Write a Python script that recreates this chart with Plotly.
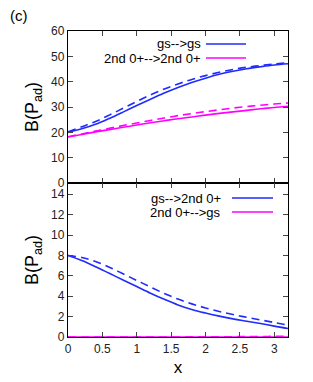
import plotly.graph_objects as go
from plotly.subplots import make_subplots

x = [0, 0.2, 0.4, 0.6, 0.8, 1.0, 1.2, 1.4, 1.6, 1.8, 2.0, 2.2, 2.4, 2.6, 2.8, 3.0, 3.2]

# upper panel
gs_gs_solid = [20.0, 21.4, 23.2, 25.5, 28.0, 30.6, 33.1, 35.5, 37.7, 39.7, 41.4, 42.9, 44.1, 45.1, 45.9, 46.6, 47.1]
gs_gs_dash = [20.2, 22.2, 24.3, 26.8, 29.5, 32.2, 34.8, 37.1, 39.1, 40.9, 42.4, 43.7, 44.8, 45.7, 46.4, 47.0, 47.5]
n2_n2_solid = [18.2, 19.2, 20.2, 21.1, 22.0, 22.9, 23.8, 24.6, 25.4, 26.1, 26.8, 27.5, 28.1, 28.7, 29.3, 29.8, 30.3]
n2_n2_dash = [18.3, 19.4, 20.5, 21.6, 22.7, 23.7, 24.7, 25.7, 26.6, 27.4, 28.2, 28.9, 29.6, 30.2, 30.7, 31.2, 31.6]

# lower panel
gs_n2_solid = [8.0, 7.5, 6.9, 6.25, 5.6, 4.95, 4.3, 3.7, 3.15, 2.7, 2.35, 2.05, 1.78, 1.55, 1.32, 1.07, 0.84]
gs_n2_dash = [8.0, 7.8, 7.4, 6.85, 6.2, 5.55, 4.9, 4.27, 3.72, 3.25, 2.85, 2.5, 2.2, 1.93, 1.68, 1.42, 1.17]
n2_gs_solid = [0.0] * 17
n2_gs_dash = [0.0, 0.0, 0.0, 0.0, 0.0, 0.0, 0.0, 0.0, 0.0, 0.01, 0.01, 0.02, 0.03, 0.04, 0.05, 0.06, 0.07]

upper_labels = ["gs-->gs", "2nd 0+-->2nd 0+"]
lower_labels = ["gs-->2nd 0+", "2nd 0+-->gs"]

BLUE = "#1f2bff"
MAG = "#ff00ff"
FONT = "Liberation Sans, Arial, sans-serif"

fig = make_subplots(rows=2, cols=1, shared_xaxes=False, vertical_spacing=0.0,
                    row_heights=[0.497, 0.503])

def add(y, color, dash, row):
    fig.add_trace(go.Scatter(x=x, y=y, mode="lines", line=dict(color=color, width=1.6, dash=dash, shape="spline"),
                             showlegend=False, hoverinfo="skip"), row=row, col=1)

add(gs_gs_dash, BLUE, "8px,5px", 1)
add(gs_gs_solid, BLUE, "solid", 1)
add(n2_n2_dash, MAG, "8px,5px", 1)
add(n2_n2_solid, MAG, "solid", 1)
add(gs_n2_dash, BLUE, "8px,5px", 2)
add(gs_n2_solid, BLUE, "solid", 2)
add(n2_gs_dash, MAG, "8px,5px", 2)
add(n2_gs_solid, MAG, "solid", 2)

axis_common = dict(showline=True, linecolor="black", linewidth=1.3, mirror="ticks",
                   ticks="inside", ticklen=5, tickcolor="#444", tickwidth=1,
                   showgrid=False, zeroline=False, automargin=False,
                   tickfont=dict(family=FONT, size=12, color="#222"))

fig.update_xaxes(range=[0, 3.2], dtick=0.5, tick0=0, **axis_common)
fig.update_xaxes(showticklabels=False, row=1, col=1)
fig.update_xaxes(title=dict(text="x", font=dict(family=FONT, size=17, color="black"), standoff=6), row=2, col=1)
fig.update_yaxes(**axis_common)
fig.update_yaxes(range=[0, 60], dtick=10, row=1, col=1)
fig.update_yaxes(range=[0, 15.1], dtick=2, row=2, col=1)
fig.update_yaxes(title=dict(text="B(P<sub>ad</sub>)", font=dict(family=FONT, size=18, color="black"), standoff=7))

# page offset: the html body has an 8px margin
OFF = 8
# plot area in page pixels
L, R = 68, 288
plot_top, plot_bot = 31, 337
def ypaper(py):
    return (plot_bot - py) / (plot_bot - plot_top)
def xpaper(px):
    return (px - L) / (R - L)

leg = [
    (upper_labels[0], BLUE, 44),
    (upper_labels[1], MAG, 58),
    (lower_labels[0], BLUE, 198),
    (lower_labels[1], MAG, 212),
]
for i, (txt, col, py) in enumerate(leg):
    tx_end = 203 if i < 2 else 223
    s0, s1 = (206, 246) if i < 2 else (232, 273)
    fig.add_annotation(x=xpaper(tx_end), y=ypaper(py), xref="paper", yref="paper",
                       text=txt, showarrow=False, xanchor="right", yanchor="middle",
                       font=dict(family=FONT, size=13, color="black"))
    fig.add_shape(type="line", xref="paper", yref="paper",
                  x0=xpaper(s0), x1=xpaper(s1), y0=ypaper(py), y1=ypaper(py),
                  line=dict(color=col, width=1.6))

fig.add_annotation(x=xpaper(OFF), y=ypaper(5), xref="paper", yref="paper", xanchor="left", yanchor="top",
                   text="(c)", showarrow=False, font=dict(family=FONT, size=15, color="black"))

W, H = 313 - OFF, 382 - OFF
fig.update_layout(width=W, height=H,
                  margin=dict(l=L - OFF, r=313 - R, t=plot_top - OFF, b=382 - plot_bot),
                  plot_bgcolor="white", paper_bgcolor="white", showlegend=False)

fig.write_html("out.html")
